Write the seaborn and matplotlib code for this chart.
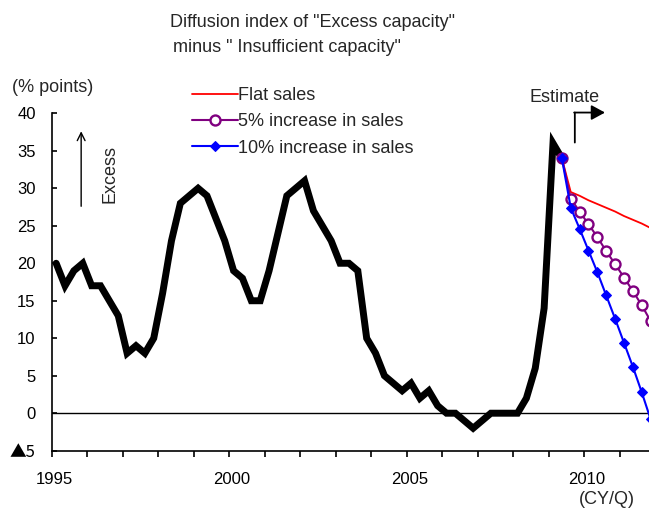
"""
Diffusion index of excess capacity minus insufficient capacity,
actual (quarterly) with three sales scenarios for the estimate period.
"""

import matplotlib
matplotlib.use("Agg")
import matplotlib.pyplot as plt
import matplotlib.transforms as mtransforms
import seaborn as sns
import numpy as np
import pandas as pd

# Data (quarterly, 1995Q1 onward)
START_YEAR = 1995
actual = [20, 17, 19, 20, 17, 17, 15, 13, 8, 9, 8, 10,
          16, 23, 28, 29, 30, 29, 26, 23, 19, 18, 15, 15,
          19, 24, 29, 30, 31, 27, 25, 23, 20, 20, 19, 10,
          8, 5, 4, 3, 4, 2, 3, 1, 0, 0, -1, -2,
          -1, 0, 0, 0, 0, 2, 6, 14, 36, 34]
# estimates start from the last actual quarter (2009Q2)
flat_sales = [34, 29.5, 29.0, 28.4, 27.9, 27.4, 26.9, 26.3, 25.8, 25.3, 24.7]
inc5_sales = [34, 28.6, 26.9, 25.2, 23.5, 21.6, 19.9, 18.1, 16.3, 14.4, 12.3]
inc10_sales = [34, 27.4, 24.6, 21.7, 18.8, 15.7, 12.6, 9.4, 6.2, 2.8, -0.8]

series_labels = ["Flat sales", "5% increase in sales", "10% increase in sales"]
year_ticks = list(range(1995, 2012))
year_labels = [str(y) if y % 5 == 0 else "" for y in year_ticks]
y_ticks = [-5, 0, 5, 10, 15, 20, 25, 30, 35, 40]
y_labels = ["\u25b25", "0", "5", "10", "15", "20", "25", "30", "35", "40"]

# quarter midpoints on a continuous year axis
t_actual = START_YEAR + (np.arange(len(actual)) + 0.5) / 4
t_est = START_YEAR + (np.arange(len(flat_sales)) + len(actual) - 1 + 0.5) / 4

df_act = pd.DataFrame({"t": t_actual, "di": actual})
df_est = pd.DataFrame({"t": t_est, "flat": flat_sales,
                       "inc5": inc5_sales, "inc10": inc10_sales})

# Style
sns.set_theme(style="white")
plt.rcParams["font.family"] = ["Liberation Sans", "Noto Sans CJK JP", "DejaVu Sans"]

W, H = 649, 509
fig = plt.figure(figsize=(W / 100, H / 100), dpi=100)
ax = fig.add_axes([51.7 / W, 1 - 450.7 / H, 1 - 51.7 / W, (450.7 - 113.3) / H])

sns.lineplot(data=df_act, x="t", y="di", ax=ax, color="black", lw=5,
             solid_joinstyle="miter", zorder=3)
sns.lineplot(data=df_est, x="t", y="flat", ax=ax, color="#FF0000", lw=1.3,
             label=series_labels[0], zorder=4)
sns.lineplot(data=df_est, x="t", y="inc5", ax=ax, color="#800080", lw=1.5,
             marker="o", markersize=7.2, markerfacecolor="white",
             markeredgecolor="#800080", markeredgewidth=1.7,
             label=series_labels[1], zorder=5)
sns.lineplot(data=df_est, x="t", y="inc10", ax=ax, color="#0000FF", lw=1.5,
             marker="D", markersize=5.2, markerfacecolor="#0000FF",
             markeredgecolor="#0000FF", label=series_labels[2], zorder=6)

ax.axhline(0, color="black", lw=1.0, zorder=2)

ax.set_xlim(1995, 2011.83)
ax.set_ylim(-5, 40)
ax.set_xticks(year_ticks)
ax.set_xticklabels(year_labels)
ax.set_yticks(y_ticks)
ax.set_yticklabels(y_labels)
ax.set_xlabel("")
ax.set_ylabel("")
ax.tick_params(axis="x", direction="out", length=4.3, width=1.2, pad=11,
               labelsize=12, bottom=True, colors="black")
ax.tick_params(axis="y", direction="in", length=3.5, width=1.2, pad=11.5,
               labelsize=12, left=True, colors="black")
# the negative label uses the full-width Japanese triangle
ax.get_yticklabels()[0].set_fontfamily(["Noto Sans CJK JP", "Liberation Sans"])
# year labels sit slightly right of their ticks in the original
shift = mtransforms.ScaledTranslation(3 / 100, 0, fig.dpi_scale_trans)
for lbl in ax.get_xticklabels():
    lbl.set_transform(lbl.get_transform() + shift)
for side in ["top", "right"]:
    ax.spines[side].set_visible(False)
for side in ["left", "bottom"]:
    ax.spines[side].set_color("black")
    ax.spines[side].set_linewidth(1.2)

# Legend
ax.get_legend().remove()
handles, labels = ax.get_legend_handles_labels()
fig.legend(handles, labels, loc="upper left",
           bbox_to_anchor=(191.7 / W, 1 - 87 / H), frameon=False,
           fontsize=13, handlelength=2.58, handletextpad=0.0,
           labelspacing=0.52, borderpad=0, borderaxespad=0, numpoints=1)

# Titles and annotations
fig.text(170 / W, 1 - 22.5 / H, 'Diffusion index of "Excess capacity"',
         ha="left", va="center", fontsize=13)
fig.text(173.3 / W, 1 - 47.7 / H, 'minus " Insufficient capacity"',
         ha="left", va="center", fontsize=13)
fig.text(12 / W, 1 - 88 / H, "(% points)", ha="left", va="center", fontsize=13)
fig.text(565 / W, 1 - 98 / H, "Estimate", ha="center", va="center", fontsize=13)
fig.text(606.5 / W, 1 - 500 / H, "(CY/Q)", ha="center", va="center", fontsize=13)
fig.text(110 / W, 1 - 174 / H, "Excess", ha="center", va="center",
         rotation=90, fontsize=13)

# "Excess" arrow
ax.annotate("", xy=(1995.83, 37.6), xytext=(1995.83, 27.6),
            arrowprops=dict(arrowstyle="->", lw=1.0, color="black",
                            mutation_scale=14, shrinkA=0, shrinkB=0))
# "Estimate" bent arrow
ax.annotate("", xy=(2009.74, 40.1), xytext=(2009.74, 36.1),
            annotation_clip=False,
            arrowprops=dict(arrowstyle="-", lw=1.3, color="black",
                            shrinkA=0, shrinkB=0))
ax.annotate("", xy=(2010.59, 40.1), xytext=(2009.72, 40.1),
            annotation_clip=False,
            arrowprops=dict(arrowstyle="-|>,head_length=0.55,head_width=0.3",
                            lw=1.3, color="black", mutation_scale=15,
                            shrinkA=0, shrinkB=0))

fig.savefig("out.png", dpi=100)
plt.close(fig)
